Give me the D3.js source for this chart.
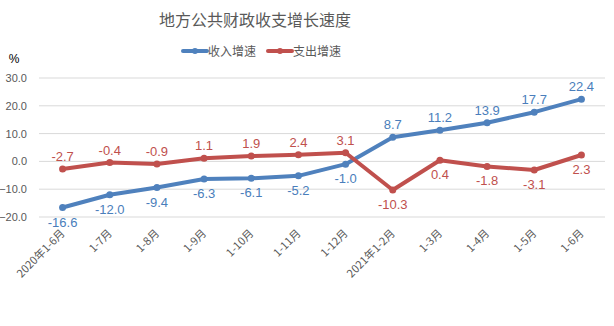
<!DOCTYPE html>
<html>
<head>
<meta charset="utf-8">
<script src="https://cdn.jsdelivr.net/npm/d3@7/dist/d3.min.js"></script>
<style>
  html, body { margin: 0; padding: 0; background: #fff; }
  svg { display: block; }
</style>
</head>
<body>
<svg id="chart" width="614" height="326"></svg>
<script>
// Months (cumulative periods) on the x axis
const categories = ["2020年1-6月", "1-7月", "1-8月", "1-9月", "1-10月", "1-11月", "1-12月",
                    "2021年1-2月", "1-3月", "1-4月", "1-5月", "1-6月"];
// Growth rate of local public fiscal revenue (%)
const incomeGrowth = [-16.6, -12.0, -9.4, -6.3, -6.1, -5.2, -1.0, 8.7, 11.2, 13.9, 17.7, 22.4];
// Growth rate of local public fiscal expenditure (%)
const expenseGrowth = [-2.7, -0.4, -0.9, 1.1, 1.9, 2.4, 3.1, -10.3, 0.4, -1.8, -3.1, 2.3];
// Value axis ticks
const yTicks = [-20, -10, 0, 10, 20, 30];

const series = [
  { name: "收入增速", values: incomeGrowth, color: "#4F81BD", text: "#4A7EBB" },
  { name: "支出增速", values: expenseGrowth, color: "#C0504D", text: "#C0504D" }
];

const svg = d3.select("#chart");
const fontCJK = "'Noto Sans CJK SC', 'Microsoft YaHei', sans-serif";
const fontNum = "'Liberation Sans', Arial, sans-serif";

const plot = { left: 39, right: 605, top: 78, bottom: 217 };

const x = d3.scaleBand().domain(categories).range([plot.left, plot.right]);
const y = d3.scaleLinear().domain([-20, 30]).range([plot.bottom, plot.top]);
const cx = c => x(c) + x.bandwidth() / 2;

// Title
svg.append("text")
  .attr("x", 255).attr("y", 26)
  .attr("text-anchor", "middle")
  .attr("font-family", fontCJK).attr("font-size", 16)
  .attr("fill", "#595959")
  .text("地方公共财政收支增长速度");

// Legend
const legend = svg.append("g").attr("font-family", fontCJK).attr("font-size", 12).attr("fill", "#595959");
const legendX = [183, 268];
series.forEach((s, i) => {
  const g = legend.append("g").attr("transform", `translate(${legendX[i]},51)`);
  g.append("line").attr("x1", 0).attr("x2", 24).attr("y1", 0).attr("y2", 0)
    .attr("stroke", s.color).attr("stroke-width", 4).attr("stroke-linecap", "round");
  g.append("circle").attr("cx", 12).attr("cy", 0).attr("r", 3).attr("fill", s.color);
  g.append("text").attr("x", 25).attr("y", 4.5).text(s.name);
});

// Unit label
svg.append("text")
  .attr("x", 14).attr("y", 63)
  .attr("text-anchor", "middle")
  .attr("font-family", fontNum).attr("font-size", 12)
  .attr("fill", "#000")
  .text("%");

// Grid lines
svg.append("g")
  .selectAll("line").data(yTicks).join("line")
  .attr("x1", plot.left).attr("x2", plot.right)
  .attr("y1", d => y(d)).attr("y2", d => y(d))
  .attr("stroke", "#D9D9D9").attr("stroke-width", 1);

// Y axis
const yAxis = svg.append("g")
  .attr("transform", `translate(${plot.left},0)`)
  .call(d3.axisLeft(y).tickValues(yTicks).tickFormat(d3.format(".1f")).tickSize(0).tickPadding(12));
yAxis.select(".domain").remove();
yAxis.selectAll("text")
  .attr("font-family", fontNum).attr("font-size", 11).attr("fill", "#595959");

// X axis (labels only, rotated)
const xAxis = svg.append("g")
  .attr("transform", `translate(0,${plot.bottom})`)
  .call(d3.axisBottom(x).tickSize(0).tickPadding(0));
xAxis.select(".domain").remove();
xAxis.selectAll("text")
  .attr("font-family", fontCJK).attr("font-size", 11).attr("fill", "#595959")
  .attr("text-anchor", "end")
  .attr("dy", 0)
  .attr("transform", "translate(3,17) rotate(-45)");

// Lines, markers, value labels
const line = d3.line().x((d, i) => cx(categories[i])).y(d => y(d));

series.forEach((s, si) => {
  const g = svg.append("g");
  g.append("path").datum(s.values)
    .attr("d", line)
    .attr("fill", "none").attr("stroke", s.color)
    .attr("stroke-width", 4).attr("stroke-linejoin", "round");
  g.selectAll("circle").data(s.values).join("circle")
    .attr("cx", (d, i) => cx(categories[i])).attr("cy", d => y(d))
    .attr("r", 3.5).attr("fill", s.color);
  // Before 2021 revenue labels sit below, expenditure above; afterwards swapped
  g.selectAll("text").data(s.values).join("text")
    .attr("x", (d, i) => cx(categories[i]))
    .attr("y", (d, i) => {
      const below = (si === 0) === (i < 7);
      return below ? y(d) + 19 : y(d) - 8;
    })
    .attr("text-anchor", "middle")
    .attr("font-family", fontNum).attr("font-size", 13)
    .attr("fill", s.text)
    .text(d => d.toFixed(1));
});
</script>
</body>
</html>
